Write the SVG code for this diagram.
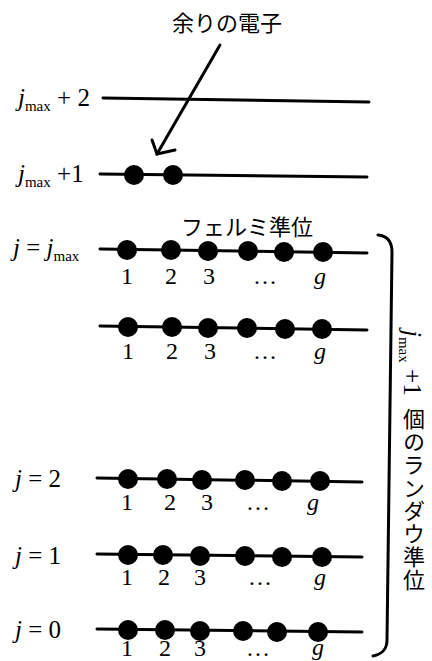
<svg xmlns="http://www.w3.org/2000/svg" width="432" height="661" viewBox="0 0 432 661">
<style>
.lv{stroke:#000;stroke-width:3;fill:none;stroke-linecap:round}
.dot{fill:#000}
.t{font-family:"Liberation Serif","Times New Roman",serif;font-size:25px;fill:#000}
.i{font-style:italic}
.sub{font-size:15px}
.n{font-family:"Liberation Serif","Times New Roman",serif;font-size:24px;fill:#000;text-anchor:middle}
.jp{font-family:"Noto Sans CJK JP","Noto Sans CJK SC",sans-serif;font-size:22px;fill:#000}
</style>
<rect width="432" height="661" fill="#fff"/>
<g id="title"><text class="jp" x="227" y="31" text-anchor="middle">余りの電子</text></g>
<g id="connectors">
<path class="lv" d="M220,45 L157,154"/>
<path class="lv" d="M152,140 L157,154 L175,150"/>
</g>
<g id="level-jmax2">
<text class="t" x="18" y="106"><tspan class="i">j</tspan><tspan class="sub" dy="5">max</tspan><tspan dy="-5"> + 2</tspan></text>
<line class="lv" x1="103" y1="98" x2="369" y2="102"/>
</g>
<g id="level-jmax1">
<text class="t" x="18" y="182"><tspan class="i">j</tspan><tspan class="sub" dy="5">max</tspan><tspan dy="-5"> +1</tspan></text>
<line class="lv" x1="100" y1="174" x2="367" y2="177"/>
<circle class="dot" cx="134" cy="175" r="10"/>
<circle class="dot" cx="173" cy="175" r="10"/>
</g>
<g id="fermi"><text class="jp" x="247" y="235" text-anchor="middle" font-size="24">フェルミ準位</text></g>
<g id="level-jmax">
<text class="t" x="13" y="256"><tspan class="i">j</tspan> = <tspan class="i">j</tspan><tspan class="sub" dy="5">max</tspan></text>
<line class="lv" x1="100" y1="249" x2="367" y2="253"/>
<circle class="dot" cx="127" cy="250" r="10"/><circle class="dot" cx="171" cy="250" r="10"/><circle class="dot" cx="208" cy="251" r="10"/><circle class="dot" cx="248" cy="251" r="10"/><circle class="dot" cx="284" cy="252" r="10"/><circle class="dot" cx="323" cy="252" r="10"/>
<text class="n" x="127" y="284">1</text><text class="n" x="171" y="284">2</text><text class="n" x="209" y="284">3</text><text class="n" x="265" y="284">…</text><text class="n i" x="320" y="284">g</text>
</g>
<g id="level-mid">
<line class="lv" x1="100" y1="326" x2="367" y2="330"/>
<circle class="dot" cx="128" cy="327" r="10"/><circle class="dot" cx="172" cy="327" r="10"/><circle class="dot" cx="208" cy="328" r="10"/><circle class="dot" cx="247" cy="328" r="10"/><circle class="dot" cx="285" cy="329" r="10"/><circle class="dot" cx="322" cy="329" r="10"/>
<text class="n" x="128" y="359">1</text><text class="n" x="172" y="359">2</text><text class="n" x="210" y="359">3</text><text class="n" x="265" y="359">…</text><text class="n i" x="320" y="359">g</text>
</g>
<g id="level-j2">
<text class="t" x="15" y="487"><tspan class="i">j</tspan> = 2</text>
<line class="lv" x1="97" y1="478" x2="362" y2="482"/>
<circle class="dot" cx="128" cy="479" r="10"/><circle class="dot" cx="167" cy="479" r="10"/><circle class="dot" cx="202" cy="480" r="10"/><circle class="dot" cx="245" cy="480" r="10"/><circle class="dot" cx="282" cy="481" r="10"/><circle class="dot" cx="320" cy="481" r="10"/>
<text class="n" x="127" y="510">1</text><text class="n" x="170" y="510">2</text><text class="n" x="207" y="510">3</text><text class="n" x="258" y="510">…</text><text class="n i" x="313" y="510">g</text>
</g>
<g id="level-j1">
<text class="t" x="15" y="564"><tspan class="i">j</tspan> = 1</text>
<line class="lv" x1="97" y1="554" x2="362" y2="557"/>
<circle class="dot" cx="128" cy="555" r="10"/><circle class="dot" cx="163" cy="555" r="10"/><circle class="dot" cx="200" cy="556" r="10"/><circle class="dot" cx="245" cy="556" r="10"/><circle class="dot" cx="282" cy="557" r="10"/><circle class="dot" cx="322" cy="557" r="10"/>
<text class="n" x="127" y="585">1</text><text class="n" x="164" y="585">2</text><text class="n" x="200" y="585">3</text><text class="n" x="260" y="585">…</text><text class="n i" x="320" y="585">g</text>
</g>
<g id="level-j0">
<text class="t" x="15" y="638"><tspan class="i">j</tspan> = 0</text>
<line class="lv" x1="97" y1="629" x2="362" y2="632"/>
<circle class="dot" cx="128" cy="630" r="10"/><circle class="dot" cx="165" cy="630" r="10"/><circle class="dot" cx="200" cy="631" r="10"/><circle class="dot" cx="243" cy="631" r="10"/><circle class="dot" cx="277" cy="632" r="10"/><circle class="dot" cx="318" cy="632" r="10"/>
<text class="n" x="127" y="656">1</text><text class="n" x="165" y="656">2</text><text class="n" x="200" y="656">3</text><text class="n" x="258" y="656">…</text><text class="n i" x="318" y="655">g</text>
</g>
<g id="brace">
<path class="lv" d="M378,235 C388,236 392,242 392,252 L387,640 C387,650 382,654 373,656"/>
<text class="t" transform="translate(404,330) rotate(90)" font-size="24"><tspan class="i">j</tspan><tspan class="sub" dy="5">max</tspan><tspan dy="-5"> +1</tspan></text>
<text class="jp" x="414" y="408" writing-mode="vertical-rl" letter-spacing="1">個のランダウ準位</text>
</g>
</svg>
